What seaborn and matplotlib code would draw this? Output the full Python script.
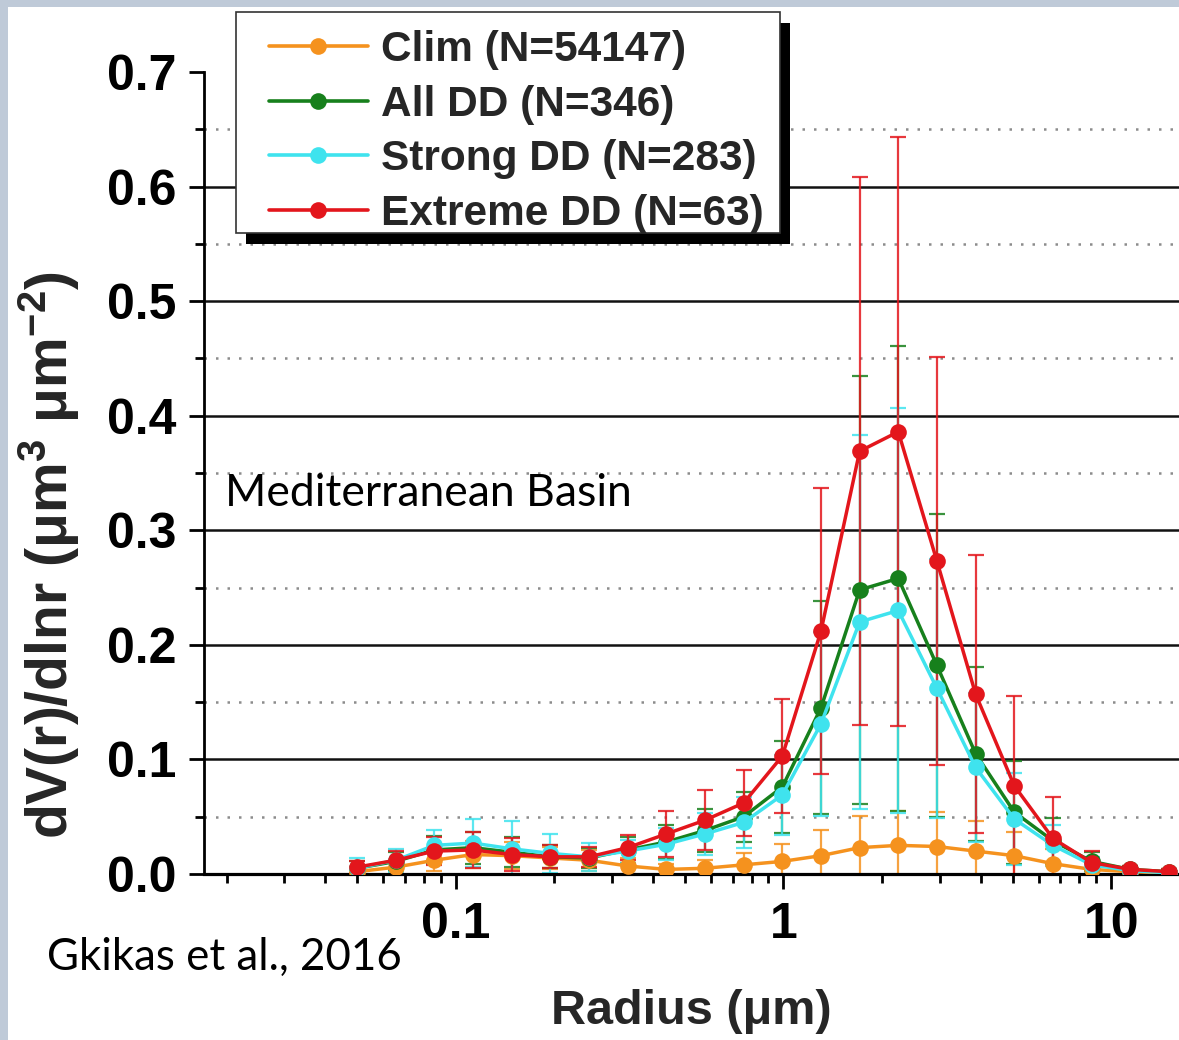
import numpy as np
import pandas as pd
import seaborn as sns
import matplotlib
matplotlib.use("Agg")
import matplotlib.pyplot as plt
from matplotlib.lines import Line2D
from matplotlib.patches import Rectangle
from matplotlib.legend_handler import HandlerLine2D
from matplotlib.ticker import FixedLocator, LogLocator, NullFormatter, MultipleLocator, FixedFormatter

# ---------------- data ----------------
radius = [0.05, 0.0656, 0.0861, 0.1129, 0.1482, 0.1944, 0.2551, 0.3347, 0.4392,
          0.5762, 0.7561, 0.9920, 1.3016, 1.7077, 2.2406, 2.9399, 3.8572, 5.0609,
          6.6403, 8.7124, 11.4312, 15.0]

clim = [0.002, 0.006, 0.012, 0.017, 0.016, 0.014, 0.012, 0.007, 0.004, 0.005, 0.008,
        0.011, 0.016, 0.023, 0.025, 0.024, 0.020, 0.016, 0.009, 0.004, 0.002, 0.001]
clim_sd = [0.004, 0.006, 0.009, 0.012, 0.012, 0.010, 0.009, 0.007, 0.005, 0.007, 0.010,
           0.015, 0.022, 0.028, 0.030, 0.030, 0.026, 0.021, 0.013, 0.006, 0.003, 0.002]

all_dd = [0.005, 0.011, 0.021, 0.023, 0.019, 0.015, 0.014, 0.021, 0.028, 0.038, 0.050,
          0.076, 0.145, 0.248, 0.258, 0.182, 0.105, 0.054, 0.029, 0.011, 0.004, 0.002]
all_dd_sd = [0.006, 0.008, 0.012, 0.014, 0.013, 0.010, 0.009, 0.011, 0.015, 0.019, 0.022,
             0.040, 0.093, 0.187, 0.203, 0.132, 0.076, 0.045, 0.020, 0.008, 0.003, 0.002]

strong_dd = [0.005, 0.012, 0.025, 0.027, 0.022, 0.018, 0.015, 0.020, 0.026, 0.035, 0.045,
             0.069, 0.131, 0.220, 0.230, 0.162, 0.093, 0.048, 0.025, 0.008, 0.003, 0.001]
strong_dd_sd = [0.009, 0.010, 0.013, 0.021, 0.024, 0.017, 0.012, 0.010, 0.014, 0.018, 0.022,
                0.035, 0.080, 0.163, 0.177, 0.113, 0.065, 0.040, 0.018, 0.007, 0.003, 0.001]

extreme_dd = [0.006, 0.012, 0.020, 0.021, 0.017, 0.015, 0.015, 0.023, 0.035, 0.047, 0.062,
              0.103, 0.212, 0.369, 0.386, 0.273, 0.157, 0.077, 0.031, 0.010, 0.004, 0.002]
extreme_dd_sd = [0.005, 0.008, 0.012, 0.016, 0.014, 0.010, 0.009, 0.011, 0.020, 0.026, 0.029,
                 0.050, 0.125, 0.239, 0.257, 0.178, 0.121, 0.078, 0.036, 0.010, 0.003, 0.002]

series_labels = ["Clim (N=54147)", "All DD (N=346)", "Strong DD (N=283)", "Extreme DD (N=63)"]
series_colors = ["#f5921e", "#17801c", "#3fe3ee", "#e3161c"]
yticks = [0.0, 0.1, 0.2, 0.3, 0.4, 0.5, 0.6, 0.7]
xtick_vals = [0.1, 1, 10]
xtick_labels = ["0.1", "1", "10"]

values = [clim, all_dd, strong_dd, extreme_dd]
sds = [clim_sd, all_dd_sd, strong_dd_sd, extreme_dd_sd]

df = pd.concat([
    pd.DataFrame({"radius": radius, "value": v, "sd": s, "series": lab})
    for v, s, lab in zip(values, sds, series_labels)
], ignore_index=True)

# ---------------- style ----------------
sns.set_theme(style="white")
plt.rcParams["font.family"] = ["Liberation Sans", "DejaVu Sans"]
plt.rcParams.update({
    "mathtext.fontset": "custom",
    "mathtext.rm": "Liberation Sans:bold",
    "mathtext.bf": "Liberation Sans:bold",
    "mathtext.it": "Liberation Sans:bold",
    "mathtext.sf": "Liberation Sans:bold",
    "mathtext.default": "bf",
})

W, H = 1179, 1040
fig = plt.figure(figsize=(W / 100, H / 100), dpi=100)
fig.patch.set_facecolor("#bfcad8")
fig.patches.append(Rectangle((8 / W, 0), 1 - 8 / W, 1 - 7 / H, transform=fig.transFigure,
                             facecolor="white", edgecolor="none", zorder=-10))

ax = fig.add_axes([204 / W, 1 - 874 / H, (W - 204) / W, (874 - 72) / H])
ax.set_facecolor("white")
ax.patch.set_alpha(0)
ax.set_xscale("log")
ax.set_xlim(0.01706, 16.1)
ax.set_ylim(0, 0.7)

# grid lines (major solid, minor dotted)
for y in [0.1, 0.2, 0.3, 0.4, 0.5, 0.6]:
    ax.axhline(y, color="#111111", lw=1.8, zorder=1)
for y in [0.05, 0.15, 0.25, 0.35, 0.45, 0.55, 0.65]:
    ax.axhline(y, color="#8c8c8c", lw=1.8, ls=(0, (1, 3.6)), zorder=1)

# data
palette = dict(zip(series_labels, series_colors))
for lab, col in zip(series_labels, series_colors):
    sub = df[df["series"] == lab]
    ax.errorbar(sub["radius"], sub["value"], yerr=sub["sd"], fmt="none", ecolor=col,
                elinewidth=1.6, capsize=6, capthick=1.6, alpha=0.85, zorder=2)
sns.lineplot(data=df, x="radius", y="value", hue="series", palette=palette,
             hue_order=series_labels, marker="o", markersize=12, markeredgewidth=0,
             linewidth=2.5, errorbar=None, sort=False, legend=False, ax=ax, zorder=3)

# spines & ticks
for s in ["top", "right"]:
    ax.spines[s].set_visible(False)
ax.spines["left"].set_linewidth(2.0)
ax.spines["bottom"].set_linewidth(2.3)
ax.spines["left"].set_color("black")
ax.spines["bottom"].set_color("black")

ax.yaxis.set_major_locator(FixedLocator(yticks))
ax.set_yticklabels([f"{v:.1f}" for v in yticks])
ax.yaxis.set_minor_locator(MultipleLocator(0.05))
ax.xaxis.set_major_locator(FixedLocator(xtick_vals))
ax.xaxis.set_major_formatter(FixedFormatter(xtick_labels))
ax.xaxis.set_minor_locator(LogLocator(base=10, subs=np.arange(2, 10)))
ax.xaxis.set_minor_formatter(NullFormatter())

ax.tick_params(axis="both", which="major", direction="out", length=11, width=2,
               color="black", labelsize=36, labelcolor="black", bottom=True, left=True)
ax.tick_params(axis="both", which="minor", direction="out", length=6.5, width=2,
               color="black", bottom=True, left=True)
ax.tick_params(axis="y", which="major", pad=9)
ax.tick_params(axis="x", which="major", pad=9)
for t in ax.get_xticklabels() + ax.get_yticklabels():
    t.set_fontweight("bold")

ax.set_xlabel("Radius (μm)", fontsize=35, fontweight="bold", labelpad=30)
ax.set_ylabel(r"dV(r)/dlnr (μm$^{3}$ μm$^{-2}$)", fontsize=41, fontweight="bold")
ax.yaxis.set_label_coords((82 - 204) / 975, (874 - 555) / 802)

# legend frame + shadow (pixel positions of the boxed legend)
frame_x0, frame_x1, frame_top, frame_bot = 236, 780, 12, 233
shadow = Rectangle(((frame_x0 + 10) / W, 1 - (frame_bot + 11) / H),
                   (frame_x1 - frame_x0) / W, (frame_bot - frame_top) / H,
                   transform=fig.transFigure, facecolor="black", edgecolor="none",
                   zorder=9.4, clip_on=False)
frame = Rectangle((frame_x0 / W, 1 - frame_bot / H),
                  (frame_x1 - frame_x0) / W, (frame_bot - frame_top) / H,
                  transform=fig.transFigure, facecolor="white", edgecolor="#333333",
                  linewidth=1.2, zorder=9.6, clip_on=False)
ax.add_artist(shadow)
ax.add_artist(frame)

leg_fs = 30.5
handles = [Line2D([0], [0], color=c, marker="o", markersize=12, lw=2.6, markeredgewidth=0)
           for c in series_colors]
leg = ax.legend(handles, series_labels, loc="upper left",
                bbox_to_anchor=(236 / W, 1 - 21 / H), bbox_transform=fig.transFigure,
                borderaxespad=0, frameon=False,
                prop={"weight": "bold", "size": leg_fs}, handlelength=2.9,
                handletextpad=0.3, borderpad=0.22, labelspacing=0.34,
                handler_map={Line2D: HandlerLine2D(xpad=0.55)})
leg.set_zorder(10)

# annotations
t1 = fig.text(225 / W, 1 - 506 / H, "Mediterranean Basin", fontsize=30, family="Lato",
              ha="left", va="baseline", color="black")
t2 = fig.text(47 / W, 1 - 970 / H, "Gkikas et al., 2016", fontsize=30, family="Lato",
              ha="left", va="baseline", color="black")

fig.canvas.draw()
for t, target in [(t1, 407), (t2, 355)]:
    w = t.get_window_extent().width
    t.set_fontsize(t.get_fontsize() * target / w)

fig.savefig("out.png", dpi=100, facecolor=fig.get_facecolor())
